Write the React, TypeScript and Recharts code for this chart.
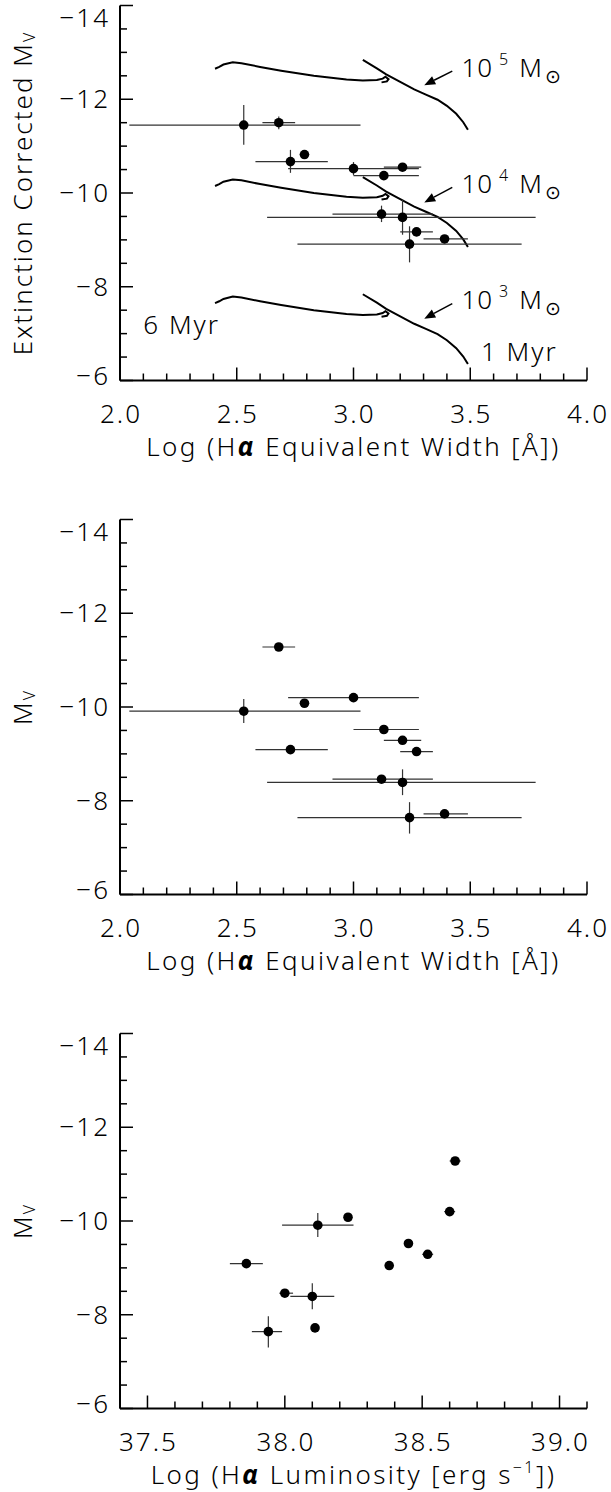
import { ComposedChart, Scatter, Line, XAxis, YAxis, ErrorBar, ReferenceLine, ReferenceDot } from "recharts";

const FONT = "'Noto Sans', 'DejaVu Sans', sans-serif";

// axis ticks
const ewTicks = [2.0, 2.1, 2.2, 2.3, 2.4, 2.5, 2.6, 2.7, 2.8, 2.9, 3.0, 3.1, 3.2, 3.3, 3.4, 3.5, 3.6, 3.7, 3.8, 3.9, 4.0];
const ewLabels = [2.0, 2.5, 3.0, 3.5, 4.0];
const lumTicks = [37.4, 37.5, 37.6, 37.7, 37.8, 37.9, 38.0, 38.1, 38.2, 38.3, 38.4, 38.5, 38.6, 38.7, 38.8, 38.9, 39.0, 39.1];
const lumLabels = [37.5, 38.0, 38.5, 39.0];
const mvTicks = [-14, -13.5, -13, -12.5, -12, -11.5, -11, -10.5, -10, -9.5, -9, -8.5, -8, -7.5, -7, -6.5, -6];
const mvLabels = [-14, -12, -10, -8, -6];

// log Halpha equivalent width and its range
const ewX = [2.53, 2.68, 2.73, 2.79, 3.00, 3.13, 3.21, 3.12, 3.21, 3.27, 3.24, 3.39];
const ewLo = [2.04, 2.61, 2.58, 2.77, 2.72, 3.00, 3.13, 2.91, 2.63, 3.20, 2.76, 3.30];
const ewHi = [3.03, 2.75, 2.89, 2.81, 3.28, 3.28, 3.29, 3.34, 3.78, 3.34, 3.72, 3.49];

// extinction corrected Mv
const mvCorr = [-11.45, -11.50, -10.67, -10.82, -10.52, -10.37, -10.55, -9.55, -9.48, -9.17, -8.91, -9.02];
const mvCorrLo = [-11.88, -11.63, -10.92, -10.87, -10.66, -10.37, -10.55, -9.73, -9.86, -9.17, -9.29, -9.02];
const mvCorrHi = [-11.03, -11.36, -10.43, -10.77, -10.38, -10.37, -10.55, -9.38, -9.11, -9.17, -8.52, -9.02];

// observed Mv
const mvObs = [-9.91, -11.28, -9.09, -10.08, -10.20, -9.52, -9.29, -8.46, -8.39, -9.05, -7.64, -7.72];
const mvObsLo = [-10.17, -11.28, -9.09, -10.08, -10.20, -9.52, -9.29, -8.46, -8.67, -9.05, -7.97, -7.72];
const mvObsHi = [-9.66, -11.28, -9.09, -10.08, -10.20, -9.52, -9.29, -8.46, -8.12, -9.05, -7.30, -7.72];

// log Halpha luminosity (same clusters, same order)
const lumX = [38.12, 38.62, 37.86, 38.23, 38.60, 38.45, 38.52, 38.00, 38.10, 38.38, 37.94, 38.11];
const lumLo = [37.99, 38.60, 37.80, 38.23, 38.58, 38.45, 38.50, 37.98, 38.02, 38.38, 37.88, 38.11];
const lumHi = [38.25, 38.64, 37.92, 38.23, 38.62, 38.45, 38.54, 38.03, 38.18, 38.38, 37.99, 38.11];

// model tracks, 6 Myr end with the hook
const trackOldX = [2.407, 2.425, 2.443, 2.483, 2.52, 2.60, 2.69, 2.83, 2.97, 3.04, 3.10, 3.125, 3.137, 3.15, 3.143, 3.12];
const track5OldY = [-12.65, -12.69, -12.74, -12.79, -12.77, -12.69, -12.61, -12.50, -12.42, -12.40, -12.41, -12.44, -12.48, -12.43, -12.38, -12.36];
const track4OldY = [-10.15, -10.19, -10.24, -10.29, -10.27, -10.19, -10.11, -10.00, -9.92, -9.90, -9.91, -9.94, -9.98, -9.93, -9.88, -9.86];
const track3OldY = [-7.65, -7.69, -7.74, -7.79, -7.77, -7.69, -7.61, -7.50, -7.42, -7.40, -7.41, -7.44, -7.48, -7.43, -7.38, -7.36];
// young end, down to 1 Myr
const trackYoungX = [3.04, 3.10, 3.14, 3.20, 3.26, 3.31, 3.36, 3.40, 3.44, 3.47, 3.49];
const track5YoungY = [-12.84, -12.66, -12.53, -12.37, -12.21, -12.10, -11.99, -11.86, -11.69, -11.51, -11.35];
const track4YoungY = [-10.34, -10.16, -10.03, -9.87, -9.71, -9.60, -9.49, -9.36, -9.19, -9.01, -8.85];
const track3YoungY = [-7.84, -7.66, -7.53, -7.37, -7.21, -7.10, -6.99, -6.86, -6.69, -6.51, -6.35];

const masses = ["5", "4", "3"];
const massLabelY = [-12.48, -10.0, -7.52];
const arrowTailY = [-12.60, -10.12, -7.64];
const arrowHeadY = [-12.30, -9.80, -7.32];

const zip = (xs: number[], ys: number[]) => xs.map((x, i) => ({ x, y: ys[i] }));

const rows = (xs: number[], lo: number[], hi: number[], ys: number[], ylo: number[], yhi: number[]) =>
  xs.map((x, i) => ({
    x,
    y: ys[i],
    ex: [x - lo[i], hi[i] - x],
    ey: [ys[i] - ylo[i], yhi[i] - ys[i]],
  }));

const isOn = (list: number[], v: number) => list.some((l) => Math.abs(l - v) < 1e-6);
const fmtX = (v: number) => v.toFixed(1);
const fmtY = (v: number) => (v < 0 ? "\u2212" + Math.abs(v) : String(v));

const TXT = { fontFamily: FONT, fontSize: 26, fontWeight: 300, fill: "#000", letterSpacing: 2 };

function makeTick(side: string, labels: number[], fmt?: (v: number) => string) {
  return (props: any) => {
    const { x, y, payload } = props;
    const v = payload.value;
    const major = isOn(labels, v);
    const len = major ? 13 : 7;
    let line = null;
    let label = null;
    if (side === "bottom") {
      line = <line x1={x} y1={y} x2={x} y2={y - len} stroke="#000" strokeWidth={1.5} />;
      if (major && fmt) label = <text x={x + 1} y={y + 42} textAnchor="middle" {...TXT}>{fmt(v)}</text>;
    } else if (side === "top") {
      line = <line x1={x} y1={y} x2={x} y2={y + len} stroke="#000" strokeWidth={1.5} />;
    } else if (side === "left") {
      line = <line x1={x} y1={y} x2={x + len} y2={y} stroke="#000" strokeWidth={1.5} />;
      if (major && fmt) {
        let ty = y + 9;
        if (v === -14) ty += 12;
        if (v === -6) ty -= 5;
        label = <text x={x - 10} y={ty} textAnchor="end" {...TXT}>{fmt(v)}</text>;
      }
    } else {
      line = <line x1={x} y1={y} x2={x - len} y2={y} stroke="#000" strokeWidth={1.5} />;
    }
    return <g>{line}{label}</g>;
  };
}

const arrowShape = (p: any) => {
  const { x1, y1, x2, y2 } = p;
  const ang = Math.atan2(y2 - y1, x2 - x1);
  const L = 11;
  const W = 4.5;
  const bx = x2 - L * Math.cos(ang);
  const by = y2 - L * Math.sin(ang);
  const px = -Math.sin(ang) * W;
  const py = Math.cos(ang) * W;
  return (
    <g>
      <line x1={x1} y1={y1} x2={bx} y2={by} stroke="#000" strokeWidth={1.5} />
      <polygon points={`${x2},${y2} ${bx + px},${by + py} ${bx - px},${by - py}`} fill="#000" />
    </g>
  );
};

const Dot = (p: any) => <circle cx={p.cx} cy={p.cy} r={4.8} fill="#000" />;

function yTitle(main: string) {
  return (props: any) => {
    const vb = props.viewBox;
    const cy = vb.y + vb.height / 2;
    return (
      <text x={22} y={cy} transform={`rotate(-90, 22, ${cy})`} textAnchor="middle" dominantBaseline="central" {...TXT}>
        {main}
        <tspan fontSize={16} dy={7}>V</tspan>
      </text>
    );
  };
}

function xTitle(kind: "ew" | "lum") {
  return (props: any) => {
    const vb = props.viewBox;
    const cx = vb.x + vb.width / 2;
    const ty = vb.y + 75;
    if (kind === "ew") {
      return (
        <text x={cx} y={ty} textAnchor="middle" {...TXT} letterSpacing={2.4}>
          Log (H<tspan fontWeight="bold" fontStyle="italic">α</tspan> Equivalent Width [Å])
        </text>
      );
    }
    return (
      <text x={cx} y={ty} textAnchor="middle" {...TXT} letterSpacing={2.4}>
        Log (H<tspan fontWeight="bold" fontStyle="italic">α</tspan> Luminosity [erg s<tspan fontSize={16} dy={-11}>−1</tspan><tspan dy={11}>])</tspan>
      </text>
    );
  };
}

type PanelProps = {
  height: number;
  data: any[];
  xDomain: [number, number];
  xTicks: number[];
  xLabels: number[];
  xKind: "ew" | "lum";
  yMain: string;
  children?: any;
};

function Panel({ height, data, xDomain, xTicks, xLabels, xKind, yMain, children }: PanelProps) {
  return (
    <ComposedChart width={611} height={height} margin={{ top: 5.5, right: 24, bottom: 0, left: 0 }}>
      <XAxis
        xAxisId="b"
        dataKey="x"
        type="number"
        domain={xDomain}
        ticks={xTicks}
        interval={0}
        allowDataOverflow
        height={height - 380.5}
        tickSize={0}
        tickMargin={0}
        tickLine={false}
        axisLine={{ stroke: "#000", strokeWidth: 2 }}
        tick={makeTick("bottom", xLabels, fmtX)}
        label={{ content: xTitle(xKind) }}
      />
      <XAxis
        xAxisId="t"
        orientation="top"
        dataKey="x"
        type="number"
        domain={xDomain}
        ticks={xTicks}
        interval={0}
        allowDataOverflow
        height={0}
        tickSize={0}
        tickMargin={0}
        tickLine={false}
        axisLine={{ stroke: "#000", strokeWidth: 2 }}
        tick={makeTick("top", xLabels)}
      />
      <YAxis
        yAxisId="l"
        dataKey="y"
        type="number"
        domain={[-14, -6]}
        reversed
        ticks={mvTicks}
        interval={0}
        allowDataOverflow
        width={120}
        tickSize={0}
        tickMargin={0}
        tickLine={false}
        axisLine={{ stroke: "#000", strokeWidth: 2 }}
        tick={makeTick("left", mvLabels, fmtY)}
        label={{ content: yTitle(yMain) }}
      />
      <YAxis
        yAxisId="r"
        orientation="right"
        dataKey="y"
        type="number"
        domain={[-14, -6]}
        reversed
        ticks={mvTicks}
        interval={0}
        allowDataOverflow
        width={0}
        tickSize={0}
        tickMargin={0}
        tickLine={false}
        axisLine={{ stroke: "#000", strokeWidth: 2 }}
        tick={makeTick("right", mvLabels)}
      />
      {children}
      <Scatter xAxisId="b" yAxisId="l" data={data} shape={Dot} isAnimationActive={false}>
        <ErrorBar dataKey="ex" direction="x" width={0} stroke="#333" strokeWidth={1.2} isAnimationActive={false} />
        <ErrorBar dataKey="ey" direction="y" width={0} stroke="#333" strokeWidth={1.2} isAnimationActive={false} />
      </Scatter>
    </ComposedChart>
  );
}

const trackLine = (key: string, d: { x: number; y: number }[]) => (
  <Line
    key={key}
    xAxisId="b"
    yAxisId="l"
    data={d}
    dataKey="y"
    stroke="#000"
    strokeWidth={2}
    dot={false}
    activeDot={false}
    isAnimationActive={false}
  />
);

const MassLabel = (p: any, exp: string) => (
  <text x={p.cx} y={p.cy} {...TXT} letterSpacing={1}>
    10<tspan fontSize={16} dx={6} dy={-12}>{exp}</tspan>
    <tspan dx={10} dy={12}>M</tspan>
    <tspan fontSize={19} dx={2} dy={6} fontFamily="'DejaVu Sans', sans-serif">⊙</tspan>
  </text>
);

export default function App() {
  const top = rows(ewX, ewLo, ewHi, mvCorr, mvCorrLo, mvCorrHi);
  const mid = rows(ewX, ewLo, ewHi, mvObs, mvObsLo, mvObsHi);
  const bot = rows(lumX, lumLo, lumHi, mvObs, mvObsLo, mvObsHi);

  const oldYs = [track5OldY, track4OldY, track3OldY];
  const youngYs = [track5YoungY, track4YoungY, track3YoungY];

  return (
    <div style={{ position: "absolute", left: 0, top: 0, width: 611, height: 1492, background: "#fff", fontFamily: FONT }}>
      <Panel height={514} data={top} xDomain={[2, 4]} xTicks={ewTicks} xLabels={ewLabels} xKind="ew" yMain="Extinction Corrected M">
        {oldYs.map((ys, i) => trackLine("o" + i, zip(trackOldX, ys)))}
        {youngYs.map((ys, i) => trackLine("y" + i, zip(trackYoungX, ys)))}
        {masses.map((m, i) => (
          <ReferenceLine
            key={"a" + m}
            xAxisId="b"
            yAxisId="l"
            segment={[{ x: 3.423, y: arrowTailY[i] }, { x: 3.303, y: arrowHeadY[i] }]}
            shape={arrowShape}
            ifOverflow="visible"
          />
        ))}
        {masses.map((m, i) => (
          <ReferenceDot
            key={"m" + m}
            xAxisId="b"
            yAxisId="l"
            x={3.462}
            y={massLabelY[i]}
            r={0}
            ifOverflow="visible"
            shape={(p: any) => MassLabel(p, m)}
          />
        ))}
        <ReferenceDot xAxisId="b" yAxisId="l" x={2.10} y={-7.0} r={0} ifOverflow="visible"
          shape={(p: any) => <text x={p.cx} y={p.cy} {...TXT}>6 Myr</text>} />
        <ReferenceDot xAxisId="b" yAxisId="l" x={3.546} y={-6.42} r={0} ifOverflow="visible"
          shape={(p: any) => <text x={p.cx} y={p.cy} {...TXT}>1 Myr</text>} />
      </Panel>
      <Panel height={514} data={mid} xDomain={[2, 4]} xTicks={ewTicks} xLabels={ewLabels} xKind="ew" yMain="M" />
      <Panel height={464} data={bot} xDomain={[37.4, 39.1]} xTicks={lumTicks} xLabels={lumLabels} xKind="lum" yMain="M" />
    </div>
  );
}
